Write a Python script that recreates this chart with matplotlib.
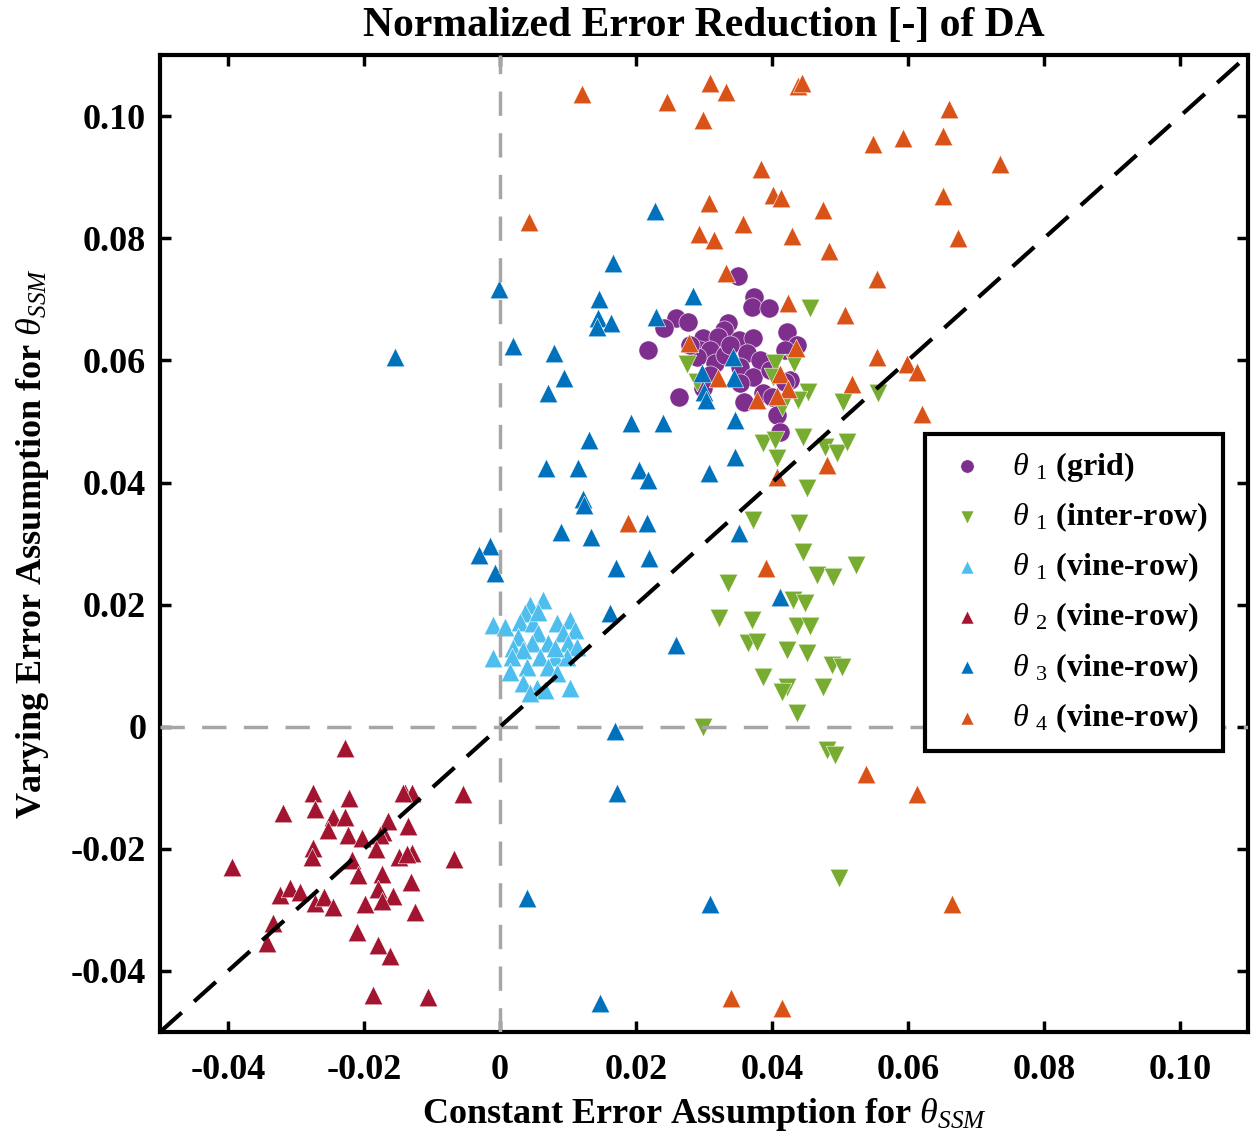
import numpy as np
import matplotlib
matplotlib.use('Agg')
import matplotlib.pyplot as plt

plt.rcParams['font.family'] = 'Liberation Serif'
plt.rcParams['font.weight'] = 'bold'
plt.rcParams['mathtext.fontset'] = 'custom'
plt.rcParams['mathtext.rm'] = 'Liberation Serif:weight=normal'
plt.rcParams['mathtext.it'] = 'Liberation Serif:style=italic:weight=normal'
plt.rcParams['mathtext.bf'] = 'Liberation Serif:weight=bold'
plt.rcParams['axes.unicode_minus'] = False

# --- normalized error reduction: (constant, varying) per run ---
grid1_x = [0.0350, 0.0374, 0.0371, 0.0396, 0.0259, 0.0241, 0.0277, 0.0218, 0.0335, 0.0329,
           0.0422, 0.0437, 0.0419, 0.0299, 0.0321, 0.0352, 0.0372, 0.0294, 0.0309, 0.0363,
           0.0382, 0.0316, 0.0353, 0.0372, 0.0290, 0.0353, 0.0427, 0.0263, 0.0359, 0.0387,
           0.0419, 0.0400, 0.0407, 0.0412, 0.0309, 0.0299, 0.0331, 0.0338, 0.0397, 0.0279]
grid1_y = [0.0738, 0.0704, 0.0687, 0.0686, 0.0669, 0.0653, 0.0663, 0.0617, 0.0661, 0.0650,
           0.0646, 0.0625, 0.0617, 0.0637, 0.0638, 0.0633, 0.0637, 0.0617, 0.0617, 0.0612,
           0.0601, 0.0596, 0.0589, 0.0573, 0.0606, 0.0563, 0.0568, 0.0540, 0.0532, 0.0547,
           0.0565, 0.0540, 0.0511, 0.0483, 0.0576, 0.0555, 0.0609, 0.0625, 0.0584, 0.0625]

inter1_x = [0.0456, 0.0275, 0.0290, 0.0404, 0.0432, 0.0402, 0.0453, 0.0504, 0.0438, 0.0415,
            0.0556, 0.0387, 0.0404, 0.0407, 0.0446, 0.0478, 0.0496, 0.0510, 0.0452, 0.0372,
            0.0440, 0.0446, 0.0335, 0.0524, 0.0466, 0.0490, 0.0431, 0.0449, 0.0322, 0.0371,
            0.0437, 0.0456, 0.0365, 0.0378, 0.0422, 0.0452, 0.0488, 0.0503, 0.0387, 0.0422,
            0.0415, 0.0475, 0.0437, 0.0299, 0.0481, 0.0493, 0.0499]
inter1_y = [0.0686, 0.0594, 0.0565, 0.0596, 0.0596, 0.0573, 0.0548, 0.0532, 0.0535, 0.0524,
            0.0547, 0.0465, 0.0470, 0.0440, 0.0475, 0.0458, 0.0448, 0.0466, 0.0391, 0.0339,
            0.0334, 0.0286, 0.0236, 0.0265, 0.0249, 0.0245, 0.0208, 0.0203, 0.0178, 0.0175,
            0.0165, 0.0165, 0.0137, 0.0139, 0.0126, 0.0121, 0.0101, 0.0098, 0.0082, 0.0065,
            0.0057, 0.0065, 0.0023, 0.0000, -0.0038, -0.0046, -0.0247]

vine1_x = [0.0063, 0.0044, 0.0037, -0.0010, 0.0007, 0.0029, 0.0049, 0.0084, 0.0103, 0.0110,
           0.0027, 0.0056, 0.0093, 0.0047, 0.0071, 0.0100, 0.0113, 0.0019, 0.0034, -0.0010,
           0.0018, 0.0059, 0.0081, 0.0099, 0.0040, 0.0071, 0.0015, 0.0084, 0.0034, 0.0054,
           0.0066, 0.0103, 0.0044, 0.0081, 0.0056]
vine1_y = [0.0208, 0.0200, 0.0187, 0.0167, 0.0164, 0.0172, 0.0170, 0.0170, 0.0175, 0.0159,
           0.0147, 0.0154, 0.0154, 0.0137, 0.0137, 0.0137, 0.0131, 0.0129, 0.0126, 0.0113,
           0.0115, 0.0115, 0.0115, 0.0115, 0.0098, 0.0098, 0.0090, 0.0088, 0.0072, 0.0064,
           0.0061, 0.0064, 0.0056, 0.0129, 0.0188]

vine2_x = [-0.0228, -0.0275, -0.0222, -0.0319, -0.0272, -0.0140, -0.0129, -0.0054, -0.0246, -0.0228,
           -0.0253, -0.0224, -0.0203, -0.0172, -0.0165, -0.0135, -0.0177, -0.0275, -0.0277, -0.0182,
           -0.0218, -0.0149, -0.0129, -0.0068, -0.0394, -0.0209, -0.0174, -0.0131, -0.0324, -0.0309,
           -0.0294, -0.0179, -0.0157, -0.0272, -0.0259, -0.0246, -0.0199, -0.0174, -0.0125, -0.0334,
           -0.0210, -0.0343, -0.0179, -0.0162, -0.0187, -0.0106, -0.0137, -0.0143]
vine2_y = [-0.0034, -0.0108, -0.0116, -0.0141, -0.0134, -0.0108, -0.0108, -0.0110, -0.0147, -0.0147,
           -0.0169, -0.0178, -0.0182, -0.0172, -0.0155, -0.0162, -0.0177, -0.0198, -0.0214, -0.0201,
           -0.0219, -0.0213, -0.0206, -0.0216, -0.0229, -0.0242, -0.0241, -0.0254, -0.0275, -0.0264,
           -0.0270, -0.0265, -0.0277, -0.0288, -0.0278, -0.0295, -0.0290, -0.0285, -0.0304, -0.0321,
           -0.0336, -0.0354, -0.0358, -0.0375, -0.0440, -0.0442, -0.0209, -0.0108]

vine3_x = [0.0166, -0.0002, 0.0146, 0.0284, 0.0144, 0.0163, 0.0143, 0.0229, 0.0019, 0.0079,
           0.0094, 0.0071, -0.0154, 0.0297, 0.0300, 0.0303, 0.0343, 0.0344, 0.0346, 0.0193,
           0.0240, 0.0131, 0.0068, 0.0115, 0.0204, 0.0218, 0.0307, 0.0122, 0.0124, 0.0216,
           0.0090, 0.0134, 0.0219, 0.0171, -0.0015, -0.0031, -0.0007, 0.0228, 0.0346, 0.0352,
           0.0412, 0.0259, 0.0162, 0.0169, 0.0172, 0.0040, 0.0309, 0.0147]
vine3_y = [0.0759, 0.0717, 0.0700, 0.0705, 0.0669, 0.0661, 0.0655, 0.0671, 0.0624, 0.0612,
           0.0571, 0.0547, 0.0606, 0.0579, 0.0548, 0.0535, 0.0606, 0.0571, 0.0502, 0.0498,
           0.0498, 0.0470, 0.0424, 0.0424, 0.0421, 0.0404, 0.0416, 0.0373, 0.0363, 0.0334,
           0.0319, 0.0311, 0.0277, 0.0260, 0.0296, 0.0282, 0.0252, 0.0845, 0.0442, 0.0318,
           0.0213, 0.0134, 0.0187, -0.0007, -0.0108, -0.0280, -0.0291, -0.0452]

vine4_x = [0.0121, 0.0246, 0.0309, 0.0332, 0.0299, 0.0438, 0.0444, 0.0549, 0.0593, 0.0652,
           0.0660, 0.0735, 0.0384, 0.0043, 0.0307, 0.0402, 0.0413, 0.0475, 0.0357, 0.0293,
           0.0315, 0.0429, 0.0484, 0.0652, 0.0674, 0.0332, 0.0554, 0.0424, 0.0507, 0.0278,
           0.0435, 0.0554, 0.0599, 0.0613, 0.0321, 0.0412, 0.0424, 0.0378, 0.0407, 0.0518,
           0.0621, 0.0407, 0.0481, 0.0391, 0.0188, 0.0538, 0.0613, 0.0665, 0.0340, 0.0415]
vine4_y = [0.1036, 0.1023, 0.1054, 0.1039, 0.0993, 0.1049, 0.1054, 0.0954, 0.0964, 0.0967,
           0.1011, 0.0921, 0.0913, 0.0827, 0.0858, 0.0871, 0.0866, 0.0846, 0.0823, 0.0807,
           0.0797, 0.0804, 0.0779, 0.0869, 0.0800, 0.0743, 0.0733, 0.0694, 0.0674, 0.0628,
           0.0620, 0.0606, 0.0594, 0.0581, 0.0571, 0.0578, 0.0553, 0.0535, 0.0542, 0.0561,
           0.0512, 0.0409, 0.0429, 0.0260, 0.0334, -0.0077, -0.0110, -0.0291, -0.0445, -0.0460]

labels = [r'$\theta_{\ \,1}$ (grid)', r'$\theta_{\ \,1}$ (inter-row)', r'$\theta_{\ \,1}$ (vine-row)',
          r'$\theta_{\ \,2}$ (vine-row)', r'$\theta_{\ \,3}$ (vine-row)', r'$\theta_{\ \,4}$ (vine-row)']
ticks = [-0.04, -0.02, 0, 0.02, 0.04, 0.06, 0.08, 0.10]
tick_labels = ['-0.04', '-0.02', '0', '0.02', '0.04', '0.06', '0.08', '0.10']

fig = plt.figure(figsize=(12.58, 11.48), dpi=100)
ax = fig.add_axes([0.1272, 0.101, 0.8649, 0.851])

series = [
    (grid1_x, grid1_y, 'o', '#7E2F8E', 190),
    (inter1_x, inter1_y, 'v', '#77AC30', 180),
    (vine1_x, vine1_y, '^', '#4DBEEE', 180),
    (vine2_x, vine2_y, '^', '#A2142F', 180),
    (vine3_x, vine3_y, '^', '#0072BD', 180),
    (vine4_x, vine4_y, '^', '#D95319', 180),
]
for (xs, ys, mk, col, sz), lab in zip(series, labels):
    ax.scatter(xs, ys, marker=mk, s=sz, color=col, edgecolors='white',
               linewidths=0.4, label=lab, zorder=2)

# reference lines
ax.plot([0, 0], [-0.05, 0.11], color='#A6A6A6', lw=2.5, ls=(0, (7, 5)), zorder=3)
ax.plot([-0.05, 0.11], [0, 0], color='#A6A6A6', lw=2.5, ls=(0, (7, 5)), zorder=3)
ax.plot([-0.05, 0.11], [-0.05, 0.11], color='black', lw=3, ls=(0, (7, 4)), zorder=3)

ax.set_xlim(-0.05, 0.11)
ax.set_ylim(-0.05, 0.11)
ax.set_xticks(ticks)
ax.set_xticklabels(tick_labels)
ax.set_yticks(ticks)
ax.set_yticklabels(tick_labels)
ax.tick_params(direction='in', length=8, width=2.5, labelsize=26, top=True, right=True)
ax.tick_params(axis='x', pad=16)
ax.tick_params(axis='y', pad=10)
for sp in ax.spines.values():
    sp.set_linewidth(3)

ax.set_title('Normalized Error Reduction [-] of DA', fontsize=30, fontweight='bold', pad=14)
ax.set_xlabel(r'Constant Error Assumption for $\theta_{SSM}$', fontsize=26,
              fontweight='bold', labelpad=6)
ax.set_ylabel(r'Varying Error Assumption for $\theta_{SSM}$', fontsize=26,
              fontweight='bold', labelpad=14)

leg = ax.legend(loc='lower right', bbox_to_anchor=(0.977, 0.288), borderaxespad=0,
                fontsize=23, frameon=True, fancybox=False, edgecolor='black', framealpha=1,
                markerscale=0.7, handlelength=1.6, handletextpad=0.6,
                labelspacing=0.52, borderpad=0.5)
leg.get_frame().set_linewidth(3)

fig.savefig('out.png', dpi=100)
